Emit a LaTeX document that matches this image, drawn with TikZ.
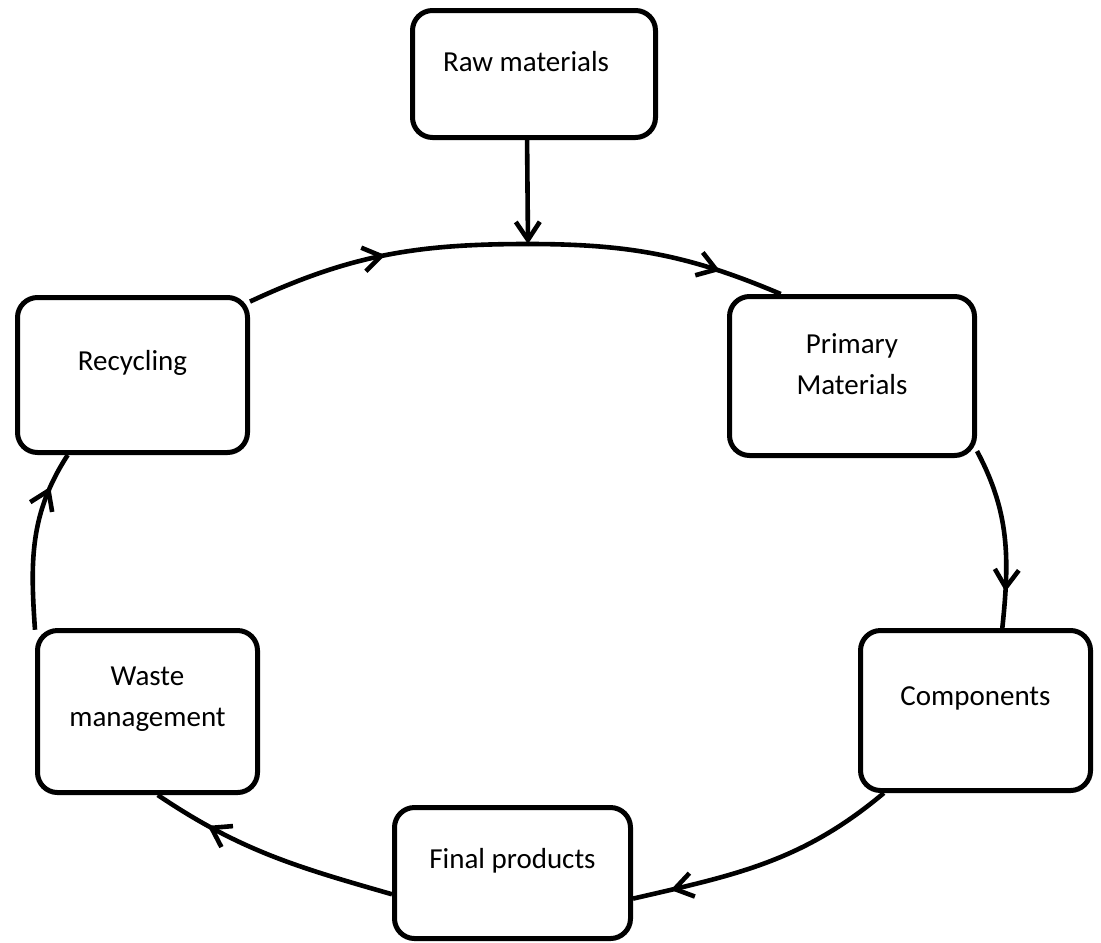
\documentclass[tikz,border=0pt]{standalone}
\usepackage{fontspec}
\setmainfont{Carlito}
\usetikzlibrary{arrows.meta,decorations.markings}

\begin{document}
\begin{tikzpicture}[
  x=0.5pt, y=0.5pt,
  every node/.style = {font=\fontsize{14.5}{20.5}\selectfont},
  stage/.style   = {rectangle, rounded corners=10pt, draw, line width=2.5pt,
                    fill=white},
  txt/.style     = {align=center, yshift=6pt},
  arr/.style     = {-{Straight Barb[length=9pt,width=12pt]}, line width=2.3pt},
  flow/.style    = {line width=2.3pt, postaction={decorate},
                    decoration={markings, mark=at position #1 with
                      {\arrow{Straight Barb[length=9pt,width=12pt]}}}},
]
\useasboundingbox (0,0) rectangle (1101,-942);

\node[stage, minimum width=121.5pt, minimum height=63.5pt,
      label={[txt, xshift=-4pt]center:Raw materials}]  (raw)   at (534,-74)    {};
\node[stage, minimum width=122.5pt, minimum height=79.5pt,
      label={[txt]center:Primary\\Materials}]          (prim)  at (852,-376)   {};
\node[stage, minimum width=115pt, minimum height=80pt,
      label={[txt]center:Components}]                  (comp)  at (975.5,-710.5) {};
\node[stage, minimum width=118pt, minimum height=65.5pt,
      label={[txt]center:Final products}]              (fin)   at (512.5,-873) {};
\node[stage, minimum width=110pt, minimum height=81pt,
      label={[txt]center:Waste\\management}]           (waste) at (147.5,-711.5) {};
\node[stage, minimum width=115pt, minimum height=77.5pt,
      label={[txt]center:Recycling}]                   (recy)  at (132.5,-375) {};

\coordinate (top) at (528,-244);

\draw[arr] (raw.264.6) -- (top);
\draw[flow=0.5]  (recy.32)   to[out=25,  in=180] (top);
\draw[flow=0.75] (top)       to[out=0,   in=157] (prim.131);
\draw[flow=0.8]  (prim.329)  to[out=-62, in=84]  (comp.72);
\draw[flow=0.86] (comp.222)  to[out=220, in=13]  (fin.348);
\draw[flow=0.77] (fin.190)   to[out=164, in=-34] (waste.277);
\draw[flow=0.8]  (waste.144) to[out=94,  in=237] (recy.231);
\end{tikzpicture}
\end{document}
